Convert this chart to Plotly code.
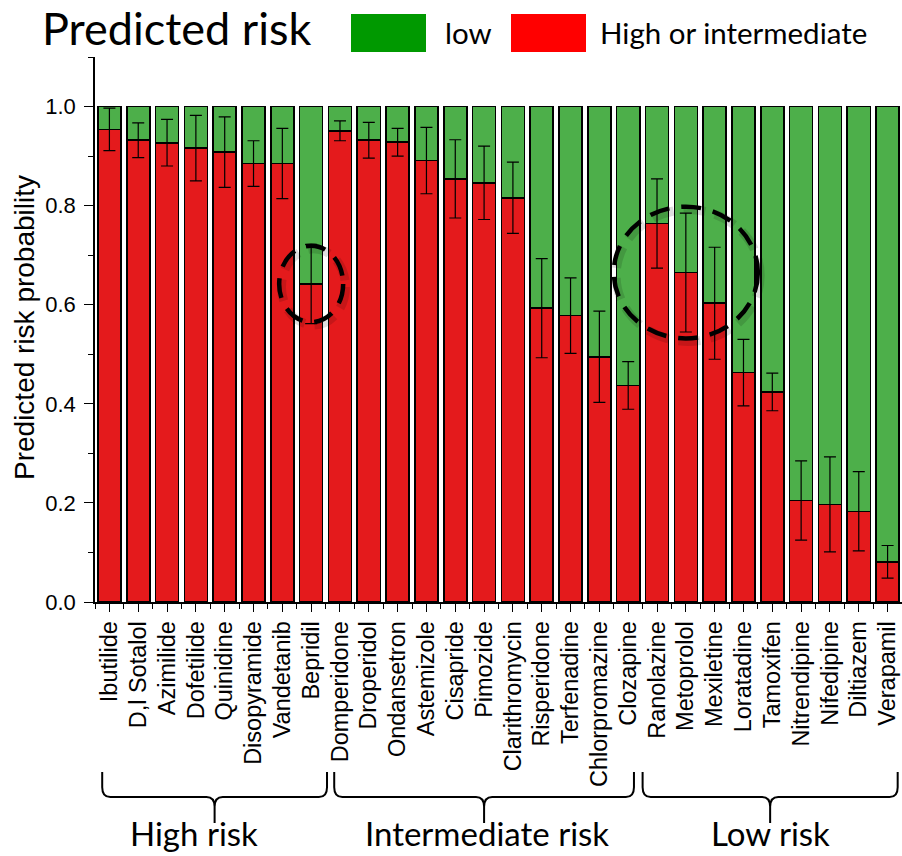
import plotly.graph_objects as go

# Drugs in plotted order, grouped by their reference torsade risk class
drugs = [
    "Ibutilide", "D,l Sotalol", "Azimilide", "Dofetilide", "Quinidine",
    "Disopyramide", "Vandetanib", "Bepridil",
    "Domperidone", "Droperidol", "Ondansetron", "Astemizole", "Cisapride",
    "Pimozide", "Clarithromycin", "Risperidone", "Terfenadine",
    "Chlorpromazine", "Clozapine",
    "Ranolazine", "Metoprolol", "Mexiletine", "Loratadine", "Tamoxifen",
    "Nitrendipine", "Nifedipine", "Diltiazem", "Verapamil",
]

# Predicted probability of "high or intermediate" risk and its spread
p_high = [
    0.954, 0.932, 0.927, 0.916, 0.908, 0.885, 0.885, 0.642,
    0.951, 0.932, 0.928, 0.891, 0.854, 0.846, 0.816, 0.593, 0.578, 0.495, 0.437,
    0.764, 0.665, 0.603, 0.463, 0.424, 0.205, 0.197, 0.183, 0.081,
]
p_err = [
    0.043, 0.035, 0.047, 0.066, 0.071, 0.046, 0.071, 0.080,
    0.020, 0.036, 0.028, 0.067, 0.079, 0.074, 0.072, 0.100, 0.076, 0.092, 0.048,
    0.090, 0.120, 0.113, 0.067, 0.038, 0.080, 0.096, 0.080, 0.033,
]
p_low = [round(1 - v, 3) for v in p_high]

# Reference risk classes: (label, first index, last index)
groups = [("High risk", 0, 7), ("Intermediate risk", 8, 18), ("Low risk", 19, 27)]
# Drugs highlighted with a dashed ring: (drug, x radius in bars, y radius)
highlights = [("Bepridil", 1.11, 0.077), ("Metoprolol", 2.5, 0.133)]

N = len(drugs)
idx = list(range(N))

RED, GREEN = "#E41A1C", "#4DAF4A"
AX_FONT = "Liberation Sans, Arial, sans-serif"
TXT_FONT = "Lato, Open Sans, sans-serif"

fig = go.Figure()
fig.add_trace(go.Bar(
    x=idx, y=p_high, name="High or intermediate", width=0.8,
    marker=dict(color=RED, line=dict(color="black", width=1.6)),
    showlegend=False, hoverinfo="skip",
))
fig.add_trace(go.Bar(
    x=idx, y=p_low, name="low", width=0.8,
    marker=dict(color=GREEN, line=dict(color="black", width=1.6)),
    showlegend=False, hoverinfo="skip",
))
# Error bars drawn on top of both stacked segments
fig.add_trace(go.Scatter(
    x=idx, y=p_high, mode="markers",
    marker=dict(size=1, color="rgba(0,0,0,0)"),
    error_y=dict(type="data", array=p_err, visible=True,
                 color="black", thickness=1.2, width=6),
    showlegend=False, hoverinfo="skip",
))

W, H = 902, 856
M_L, M_R, M_T, M_B = 95, 0, 57, 254
plot_w = W - M_L - M_R
plot_h = H - M_T - M_B


def px_x(px):
    return (px - M_L) / plot_w


def px_y(py):
    return (H - M_B - py) / plot_h


def data_to_paper_x(x):
    return (x + 0.5) / N


shapes = []
annotations = []

# Dashed highlight rings with a soft shadow
for name, rx, ry in highlights:
    i = drugs.index(name)
    cx, cy = i, p_high[i]
    shapes.append(dict(type="circle", xref="x", yref="y",
                       x0=cx - rx + 0.08, x1=cx + rx + 0.08,
                       y0=cy - ry - 0.006, y1=cy + ry - 0.006,
                       line=dict(color="rgba(0,0,0,0.13)", width=9, dash="22px,10px")))
    shapes.append(dict(type="circle", xref="x", yref="y",
                       x0=cx - rx, x1=cx + rx, y0=cy - ry, y1=cy + ry,
                       line=dict(color="black", width=4.5, dash="20px,12px")))

# Curly braces under the tick labels, one per risk class
brace_spans = [(-0.25, 7.55), (7.8, 18.2), (18.5, 27.35)]
label_x = [2.95, 13.1, 22.95]
y_top, y_h, y_tip = px_y(772), px_y(797), px_y(823)
ry = 0.018
rx = 0.010
for (label, _, _), (a, b), lx in zip(groups, brace_spans, label_x):
    L, R = data_to_paper_x(a), data_to_paper_x(b)
    Mx = (L + R) / 2
    path = (
        f"M {L},{y_top} L {L},{y_h + ry} Q {L},{y_h} {L + rx},{y_h} "
        f"L {Mx - rx},{y_h} Q {Mx},{y_h} {Mx},{y_h - ry} L {Mx},{y_tip} "
        f"M {Mx},{y_h - ry} Q {Mx},{y_h} {Mx + rx},{y_h} "
        f"L {R - rx},{y_h} Q {R},{y_h} {R},{y_h + ry} L {R},{y_top}"
    )
    shapes.append(dict(type="path", xref="paper", yref="paper", path=path,
                       line=dict(color="black", width=2)))
    annotations.append(dict(xref="paper", yref="paper", x=data_to_paper_x(lx),
                            y=px_y(855), xanchor="center", yanchor="bottom",
                            text=label, showarrow=False,
                            font=dict(family=TXT_FONT, size=33, color="black")))

# Title and legend row
annotations.append(dict(xref="paper", yref="paper", x=px_x(40), y=px_y(28),
                        xanchor="left", yanchor="middle", text="Predicted risk",
                        showarrow=False,
                        font=dict(family=TXT_FONT, size=45, color="black")))
for (c, txt, x0, x1, tx) in [("#009900", "low", 351, 426, 443),
                             ("#FF0000", "High or intermediate", 511, 586, 598)]:
    shapes.append(dict(type="rect", xref="paper", yref="paper",
                       x0=px_x(x0), x1=px_x(x1), y0=px_y(52), y1=px_y(14),
                       fillcolor=c, line=dict(width=0)))
    annotations.append(dict(xref="paper", yref="paper", x=px_x(tx), y=px_y(32),
                            xanchor="left", yanchor="middle", text=txt,
                            showarrow=False,
                            font=dict(family=TXT_FONT, size=29.5, color="black")))

# Y-axis title
annotations.append(dict(xref="paper", yref="paper", x=px_x(24), y=px_y(328),
                        xanchor="center", yanchor="middle", textangle=-90,
                        text="Predicted risk probability", showarrow=False,
                        font=dict(family=AX_FONT, size=28, color="black")))

fig.update_layout(
    width=W, height=H,
    margin=dict(l=M_L, r=M_R, t=M_T, b=M_B, pad=0),
    barmode="stack", bargap=0.2,
    plot_bgcolor="white", paper_bgcolor="white",
    shapes=shapes, annotations=annotations,
    showlegend=False,
)
fig.update_xaxes(
    range=[-0.5, N - 0.5], tickmode="array", tickvals=idx, ticktext=drugs,
    tickangle=-90, ticks="outside", ticklen=8, tickwidth=1.3, tickcolor="black",
    showline=True, linecolor="black", linewidth=1.6, showgrid=False, zeroline=False,
    tickfont=dict(family=AX_FONT, size=23.5, color="black"),
    minor=dict(tickmode="array", tickvals=[i + 0.5 for i in range(-1, N)],
               ticks="outside", ticklen=5, tickwidth=1.3, tickcolor="black"),
)
fig.update_yaxes(
    range=[0, 1.1], tick0=0, dtick=0.2, tickformat=".1f",
    ticks="outside", ticklen=9, tickwidth=1.3, tickcolor="black",
    showline=True, linecolor="black", linewidth=1.6, showgrid=False, zeroline=False,
    tickfont=dict(family=AX_FONT, size=22, color="black"), ticklabelstandoff=4,
    minor=dict(dtick=0.1, ticks="outside", ticklen=5, tickwidth=1.3,
               tickcolor="black", showgrid=False),
)

fig.write_html("out.html")
